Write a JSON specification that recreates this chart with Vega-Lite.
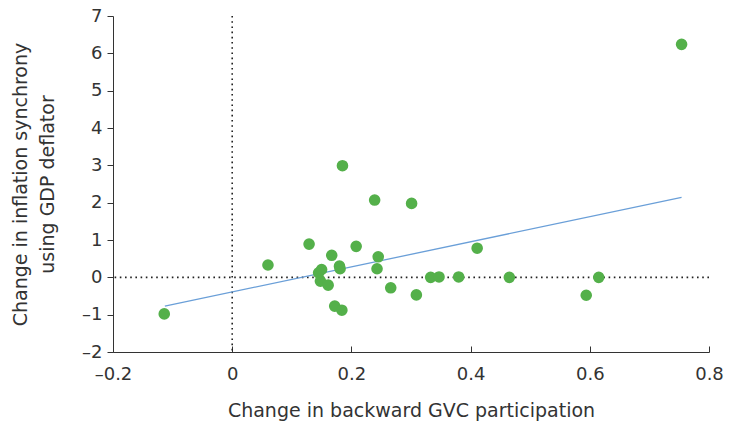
{
  "$schema": "https://vega.github.io/schema/vega-lite/v6.json",
  "width": 596,
  "height": 336,
  "autosize": "none",
  "padding": {"left": 113, "top": 16, "right": 26, "bottom": 75},
  "config": {
    "view": {"stroke": null},
    "font": "DejaVu Sans",
    "axis": {"grid": false, "domainColor": "#333", "tickColor": "#333", "labelColor": "#333", "titleColor": "#333", "labelFontSize": 18, "titleFontSize": 19, "titleFontWeight": "normal", "labelFont": "DejaVu Sans", "titleFont": "DejaVu Sans", "labelOverlap": false, "labelFlush": false, "titleLineHeight": 27}
  },
  "datasets": {
    "points": [
      {"x": -0.114, "y": -0.98},
      {"x": 0.060, "y": 0.33},
      {"x": 0.129, "y": 0.89},
      {"x": 0.145, "y": 0.12},
      {"x": 0.150, "y": 0.21},
      {"x": 0.148, "y": -0.10},
      {"x": 0.161, "y": -0.21},
      {"x": 0.167, "y": 0.59},
      {"x": 0.172, "y": -0.77},
      {"x": 0.184, "y": -0.88},
      {"x": 0.180, "y": 0.30},
      {"x": 0.181, "y": 0.23},
      {"x": 0.185, "y": 2.99},
      {"x": 0.208, "y": 0.83},
      {"x": 0.239, "y": 2.07},
      {"x": 0.245, "y": 0.55},
      {"x": 0.243, "y": 0.23},
      {"x": 0.266, "y": -0.28},
      {"x": 0.301, "y": 1.98},
      {"x": 0.309, "y": -0.47},
      {"x": 0.333, "y": 0.0},
      {"x": 0.347, "y": 0.01},
      {"x": 0.380, "y": 0.01},
      {"x": 0.411, "y": 0.78},
      {"x": 0.465, "y": 0.0},
      {"x": 0.594, "y": -0.48},
      {"x": 0.615, "y": 0.0},
      {"x": 0.754, "y": 6.24}
    ],
    "fit": [
      {"x": -0.113, "y": -0.77},
      {"x": 0.754, "y": 2.14}
    ]
  },
  "layer": [
    {
      "data": {"values": [{"v": 0}]},
      "mark": {"type": "rule", "color": "#222", "strokeWidth": 1.6, "strokeDash": [1.6, 3.6]},
      "encoding": {"x": {"field": "v", "type": "quantitative", "scale": {"domain": [-0.2, 0.8], "nice": false, "zero": false},
        "axis": {"title": "Change in backward GVC participation", "values": [-0.2, 0, 0.2, 0.4, 0.6, 0.8], "format": "~g", "tickSize": -6, "labelPadding": 19, "titlePadding": 18, "labelExpr": "replace(datum.label, '−', '–')"}}}
    },
    {
      "data": {"values": [{"v": 0}]},
      "mark": {"type": "rule", "color": "#222", "strokeWidth": 1.6, "strokeDash": [1.6, 3.6]},
      "encoding": {"y": {"field": "v", "type": "quantitative", "scale": {"domain": [-2, 7], "nice": false, "zero": false},
        "axis": {"title": ["Change in inflation synchrony", "using GDP deflator"], "values": [-2, -1, 0, 1, 2, 3, 4, 5, 6, 7], "tickCount": 10, "format": "~g", "tickSize": 6, "labelPadding": 5, "titlePadding": 24, "labelExpr": "replace(datum.label, '−', '–')"}}}
    },
    {
      "data": {"name": "fit"},
      "mark": {"type": "line", "color": "#6a9fd8", "strokeWidth": 1.3},
      "encoding": {
        "x": {"field": "x", "type": "quantitative", "scale": {"domain": [-0.2, 0.8], "nice": false, "zero": false},
          "axis": {"title": "Change in backward GVC participation", "values": [-0.2, 0, 0.2, 0.4, 0.6, 0.8], "format": "~g", "tickSize": -6, "labelPadding": 19, "titlePadding": 18, "labelExpr": "replace(datum.label, '−', '–')"}},
        "y": {"field": "y", "type": "quantitative", "scale": {"domain": [-2, 7], "nice": false, "zero": false},
          "axis": {"title": ["Change in inflation synchrony", "using GDP deflator"], "values": [-2, -1, 0, 1, 2, 3, 4, 5, 6, 7], "tickCount": 10, "format": "~g", "tickSize": 6, "labelPadding": 5, "titlePadding": 24, "labelExpr": "replace(datum.label, '−', '–')"}}
      }
    },
    {
      "data": {"name": "points"},
      "mark": {"type": "circle", "color": "#54b04a", "opacity": 1, "size": 135},
      "encoding": {
        "x": {"field": "x", "type": "quantitative", "scale": {"domain": [-0.2, 0.8], "nice": false, "zero": false},
          "axis": {"title": "Change in backward GVC participation", "values": [-0.2, 0, 0.2, 0.4, 0.6, 0.8], "format": "~g", "tickSize": -6, "labelPadding": 19, "titlePadding": 18, "labelExpr": "replace(datum.label, '−', '–')"}},
        "y": {"field": "y", "type": "quantitative", "scale": {"domain": [-2, 7], "nice": false, "zero": false},
          "axis": {"title": ["Change in inflation synchrony", "using GDP deflator"], "values": [-2, -1, 0, 1, 2, 3, 4, 5, 6, 7], "tickCount": 10, "format": "~g", "tickSize": 6, "labelPadding": 5, "titlePadding": 24, "labelExpr": "replace(datum.label, '−', '–')"}}
      }
    }
  ]
}
